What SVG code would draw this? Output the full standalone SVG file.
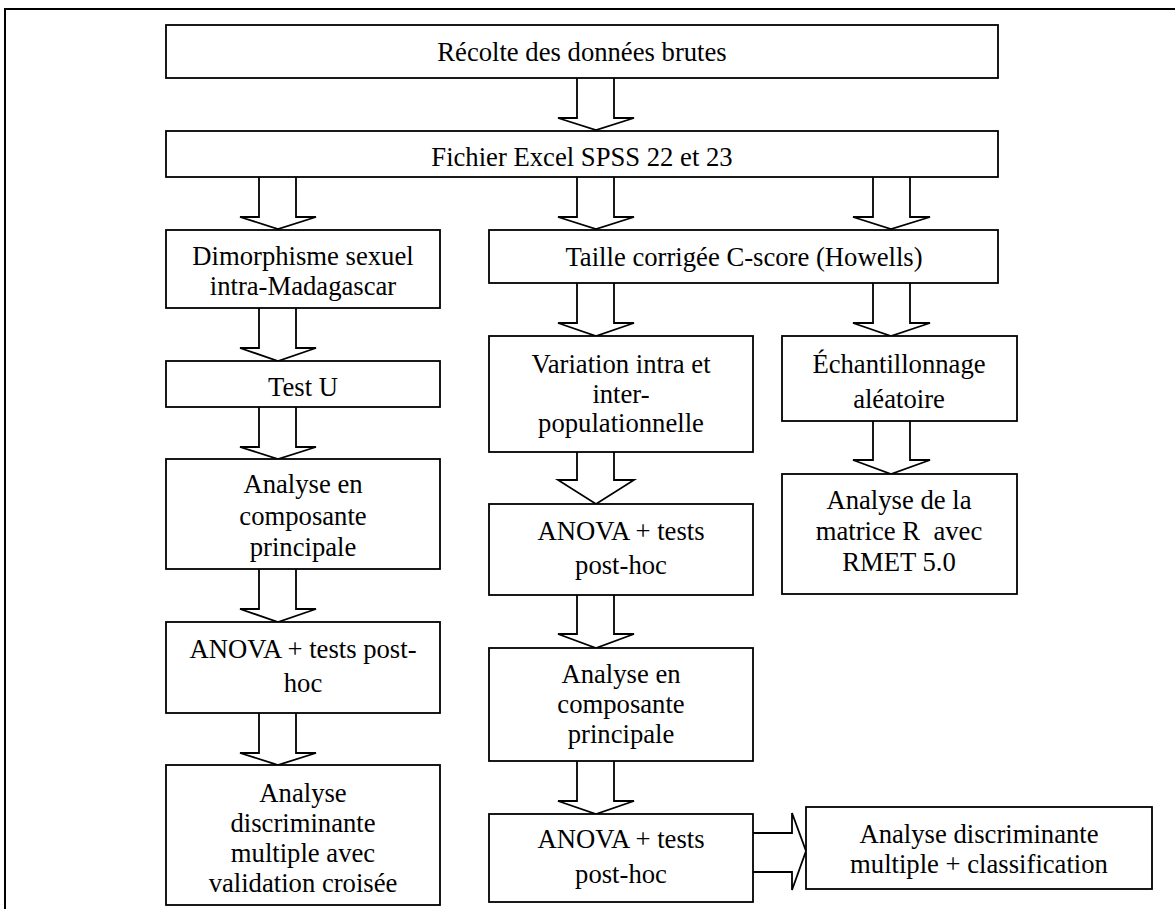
<svg xmlns="http://www.w3.org/2000/svg" width="1175" height="909" viewBox="0 0 1175 909">
<style>
.box{fill:#fff;stroke:#000;stroke-width:1.8}
.arr{fill:#fff;stroke:#000;stroke-width:1.8;stroke-linejoin:miter}
.frame{fill:none;stroke:#000;stroke-width:2}
text{font-family:'Liberation Serif',serif;font-size:26.67px;fill:#000;text-anchor:middle}
</style>
<rect width="1175" height="909" fill="#fff"/>
<path class="frame" d="M5,909 L5,9 L1175,9"/>
<g id="connectors">
<path class="arr" d="M577,78 L577,118 L558,118 L596,130 L634,118 L614,118 L614,78"/>
<path class="arr" d="M259,177 L259,217 L240,217 L278,229 L316,217 L296,217 L296,177"/>
<path class="arr" d="M577,177 L577,217 L558,217 L596,229 L634,217 L614,217 L614,177"/>
<path class="arr" d="M873,177 L873,217 L853,217 L891,229 L930,217 L910,217 L910,177"/>
<path class="arr" d="M259,308 L259,348 L240,348 L278,361 L316,348 L296,348 L296,308"/>
<path class="arr" d="M259,407 L259,447 L240,447 L278,459 L316,447 L296,447 L296,407"/>
<path class="arr" d="M259,569 L259,609 L240,609 L278,622 L316,609 L296,609 L296,569"/>
<path class="arr" d="M259,713 L259,753 L240,753 L278,765 L316,753 L296,753 L296,713"/>
<path class="arr" d="M577,283 L577,323 L558,323 L596,336 L634,323 L614,323 L614,283"/>
<path class="arr" d="M873,283 L873,323 L853,323 L891,336 L930,323 L910,323 L910,283"/>
<path class="arr" d="M577,452 L577,480 L558,480 L596,504 L634,480 L614,480 L614,452"/>
<path class="arr" d="M577,595 L577,634 L558,634 L596,648 L634,634 L614,634 L614,595"/>
<path class="arr" d="M577,761 L577,801 L558,801 L596,814 L634,801 L614,801 L614,761"/>
<path class="arr" d="M873,421 L873,460 L853,460 L891,474 L930,460 L910,460 L910,421"/>
<path class="arr" d="M753,833 L792,833 L792,813 L806,851 L792,890 L792,872 L753,872"/>
</g>
<g id="n1"><rect class="box" x="166" y="25" width="832" height="53"/><text x="582" y="61" font-family="Liberation Serif">Récolte des données brutes</text></g>
<g id="n2"><rect class="box" x="166" y="131" width="832" height="46"/><text x="582" y="166" font-family="Liberation Serif">Fichier Excel SPSS 22 et 23</text></g>
<g id="n3"><rect class="box" x="166" y="230" width="274" height="78"/><text x="303" y="265" font-family="Liberation Serif">Dimorphisme sexuel</text><text x="303" y="295" font-family="Liberation Serif">intra-Madagascar</text></g>
<g id="n4"><rect class="box" x="489" y="230" width="509" height="53"/><text x="744" y="266" font-family="Liberation Serif">Taille corrigée C-score (Howells)</text></g>
<g id="n5"><rect class="box" x="166" y="361" width="274" height="46"/><text x="303" y="396" font-family="Liberation Serif">Test U</text></g>
<g id="n6"><rect class="box" x="166" y="459" width="274" height="110"/><text x="303" y="493" font-family="Liberation Serif">Analyse en</text><text x="303" y="525" font-family="Liberation Serif">composante</text><text x="303" y="556" font-family="Liberation Serif">principale</text></g>
<g id="n7"><rect class="box" x="166" y="622" width="274" height="91"/><text x="303" y="658" font-family="Liberation Serif">ANOVA + tests post-</text><text x="303" y="692" font-family="Liberation Serif">hoc</text></g>
<g id="n8"><rect class="box" x="166" y="765" width="274" height="140"/><text x="303" y="802" font-family="Liberation Serif">Analyse</text><text x="303" y="832" font-family="Liberation Serif">discriminante</text><text x="303" y="862" font-family="Liberation Serif">multiple avec</text><text x="303" y="892" font-family="Liberation Serif">validation croisée</text></g>
<g id="n9"><rect class="box" x="489" y="336" width="264" height="116"/><text x="621" y="373" font-family="Liberation Serif">Variation intra et</text><text x="621" y="403" font-family="Liberation Serif">inter-</text><text x="621" y="432" font-family="Liberation Serif">populationnelle</text></g>
<g id="n10"><rect class="box" x="489" y="504" width="264" height="91"/><text x="621" y="540" font-family="Liberation Serif">ANOVA + tests</text><text x="621" y="574" font-family="Liberation Serif">post-hoc</text></g>
<g id="n11"><rect class="box" x="489" y="648" width="264" height="113"/><text x="621" y="683" font-family="Liberation Serif">Analyse en</text><text x="621" y="713" font-family="Liberation Serif">composante</text><text x="621" y="743" font-family="Liberation Serif">principale</text></g>
<g id="n12"><rect class="box" x="489" y="814" width="264" height="88"/><text x="621" y="848" font-family="Liberation Serif">ANOVA + tests</text><text x="621" y="883" font-family="Liberation Serif">post-hoc</text></g>
<g id="n13"><rect class="box" x="782" y="336" width="235" height="85"/><text x="899" y="373" font-family="Liberation Serif">Échantillonnage</text><text x="899" y="408" font-family="Liberation Serif">aléatoire</text></g>
<g id="n14"><rect class="box" x="782" y="474" width="235" height="120"/><text x="899" y="509" font-family="Liberation Serif">Analyse de la</text><text x="899" y="540" font-family="Liberation Serif" style="white-space:pre" xml:space="preserve">matrice R  avec</text><text x="899" y="571" font-family="Liberation Serif">RMET 5.0</text></g>
<g id="n15"><rect class="box" x="806" y="807" width="346" height="82"/><text x="979" y="843" font-family="Liberation Serif">Analyse discriminante</text><text x="979" y="873" font-family="Liberation Serif">multiple + classification</text></g>
</svg>
